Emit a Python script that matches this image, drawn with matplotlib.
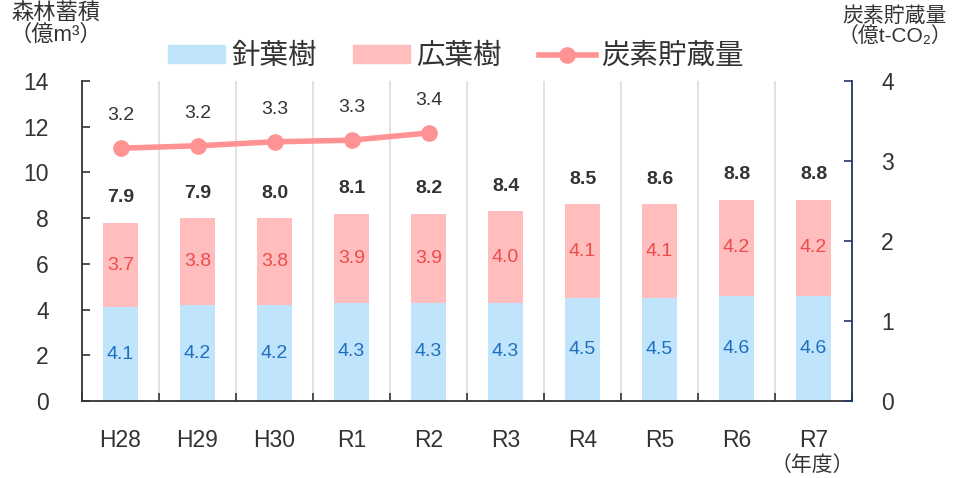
import numpy as np
import matplotlib.pyplot as plt
from matplotlib.lines import Line2D
from matplotlib.patches import Patch

plt.rcParams['font.family'] = ['Liberation Sans', 'Noto Sans CJK JP', 'DejaVu Sans']

# data
years = ["H28", "H29", "H30", "R1", "R2", "R3", "R4", "R5", "R6", "R7"]
conifer = [4.1, 4.2, 4.2, 4.3, 4.3, 4.3, 4.5, 4.5, 4.6, 4.6]
broadleaf = [3.7, 3.8, 3.8, 3.9, 3.9, 4.0, 4.1, 4.1, 4.2, 4.2]
totals = [7.9, 7.9, 8.0, 8.1, 8.2, 8.4, 8.5, 8.6, 8.8, 8.8]
carbon = [3.16, 3.19, 3.24, 3.26, 3.35]
carbon_labels = ["3.2", "3.2", "3.3", "3.3", "3.4"]

c_blue = "#BFE4FC"
c_pink = "#FFBDBD"
c_line = "#FF9393"
txt = "#333333"

fig = plt.figure(figsize=(9.55, 4.78), dpi=100)
ax = fig.add_axes([82/955, 77/478, 770/955, 320/478])
ax2 = ax.twinx()

x = np.arange(len(years))
w = 0.45
ax.bar(x, conifer, w, color=c_blue, zorder=2)
ax.bar(x, broadleaf, w, bottom=conifer, color=c_pink, zorder=2)

for i in range(len(years)):
    ax.text(x[i], conifer[i] / 2, f"{conifer[i]:.1f}", ha="center", va="center",
            fontsize=14, color="#1F6FBF", zorder=3)
    ax.text(x[i], conifer[i] + broadleaf[i] / 2, f"{broadleaf[i]:.1f}", ha="center",
            va="center", fontsize=14, color="#F04B4B", zorder=3)
    ax.text(x[i], conifer[i] + broadleaf[i] + 1.1, f"{totals[i]:.1f}", ha="center",
            va="center", fontsize=14, color=txt, fontweight="bold", zorder=3)

xc = x[:len(carbon)]
ax2.plot(xc, carbon, color=c_line, lw=4, marker="o", ms=11, zorder=4)
for i in range(len(carbon)):
    ax2.text(xc[i], carbon[i] + 0.41, carbon_labels[i], ha="center", va="center",
             fontsize=14, color=txt)

ax.set_xlim(-0.5, len(years) - 0.5)
ax.set_ylim(0, 14)
ax2.set_ylim(0, 4)
ax.set_yticks(range(0, 15, 2))
ax2.set_yticks(range(0, 5))

# vertical grid lines at category borders
for b in np.arange(0.5, len(years) - 0.5, 1):
    ax.axvline(b, color="#DDDDDD", lw=1.2, zorder=1)

ax.set_xticks(np.arange(-0.5, len(years), 1))
ax.set_xticklabels([])
ax.set_xticks(x, minor=True)
ax.set_xticklabels(years, minor=True)
ax.tick_params(axis="x", which="major", direction="in", length=6, width=1.2, color=txt)
ax.tick_params(axis="x", which="minor", length=0, pad=20, labelsize=16.5, labelcolor=txt)
ax.tick_params(axis="y", direction="in", length=6, width=1.2, color=txt,
               labelsize=16.5, labelcolor=txt, pad=24)
ax2.tick_params(axis="y", direction="in", length=6, width=1.2, color="#1F3864",
                labelsize=16.5, labelcolor=txt, pad=21)

for s in ["top"]:
    ax.spines[s].set_visible(False)
    ax2.spines[s].set_visible(False)
ax.spines["left"].set_color(txt)
ax.spines["left"].set_linewidth(1.3)
ax.spines["bottom"].set_color(txt)
ax.spines["bottom"].set_linewidth(1.3)
ax2.spines["left"].set_visible(False)
ax2.spines["bottom"].set_visible(False)
ax2.spines["right"].set_color("#1F3864")
ax2.spines["right"].set_linewidth(1.3)
ax.spines["right"].set_visible(False)

fig.text(56/955, 1 - 24/478, "森林蓄積\n（億m³）", ha="center", va="center",
         fontsize=16, color=txt, linespacing=1.05)
fig.text(895/955, 1 - 26/478, "炭素貯蔵量\n（億t-CO₂）", ha="center", va="center",
         fontsize=15, color=txt, linespacing=1.05)
fig.text(812/955, 1 - 465/478, "（年度）", ha="center", va="center", fontsize=15, color=txt)

handles = [Patch(color=c_blue), Patch(color=c_pink),
           Line2D([], [], color=c_line, lw=4, marker="o", ms=11)]
fig.legend(handles, ["針葉樹", "広葉樹", "炭素貯蔵量"], loc="center",
           bbox_to_anchor=(456/955, 1 - 57/478), ncol=3, frameon=False,
           fontsize=20.5, handlelength=2.0, handleheight=0.6, columnspacing=1.3,
           handletextpad=0.2, labelcolor=txt)

fig.savefig("out.png", dpi=100)
